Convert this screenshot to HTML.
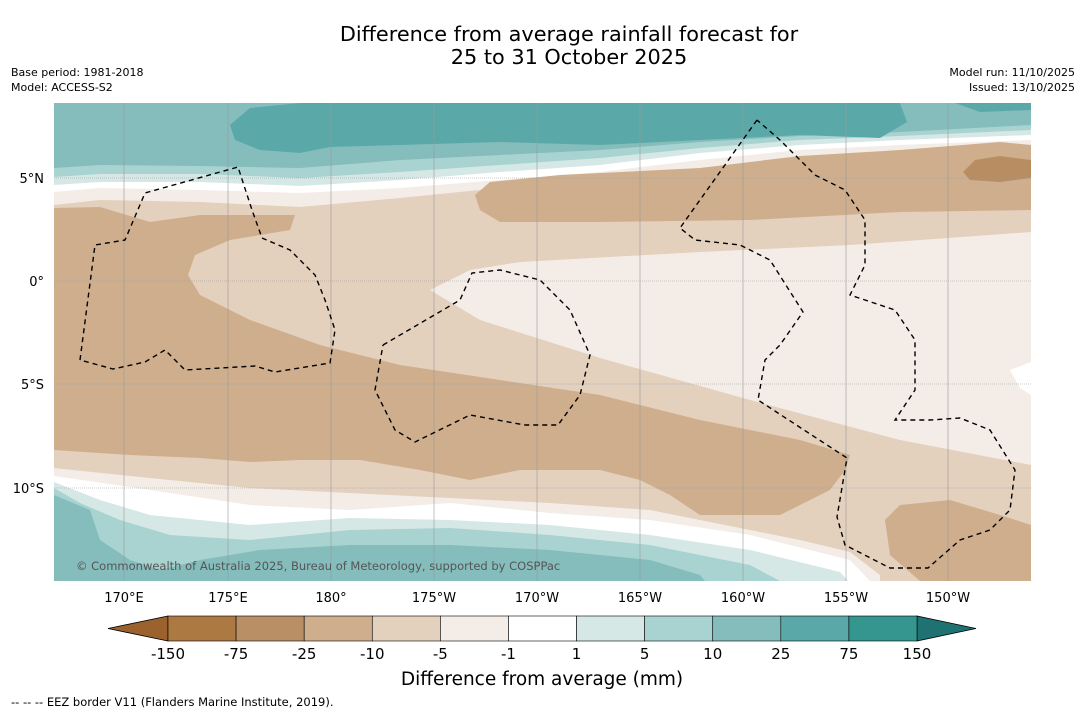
<!DOCTYPE html>
<html><head><meta charset="utf-8"><style>
body{margin:0;background:#fff;width:1085px;height:713px;overflow:hidden;font-family:"DejaVu Sans","Liberation Sans",sans-serif;}
svg{display:block}
</style></head><body>
<svg width="1085" height="713" viewBox="0 0 1085 713">
<text x="569" y="41" text-anchor="middle" font-size="20.8">Difference from average rainfall forecast for</text>
<text x="569" y="64" text-anchor="middle" font-size="20.8">25 to 31 October 2025</text>
<text x="11" y="76" font-size="11">Base period: 1981-2018</text>
<text x="11" y="91" font-size="11">Model: ACCESS-S2</text>
<text x="1075" y="76" font-size="11" text-anchor="end">Model run: 11/10/2025</text>
<text x="1075" y="91" font-size="11" text-anchor="end">Issued: 13/10/2025</text>
<defs><clipPath id="mc"><rect x="54" y="103" width="977" height="478"/></clipPath></defs>
<g clip-path="url(#mc)">
<rect x="54" y="103" width="977" height="478" fill="#e3d0bd"/>
<polygon fill="#f4ece6" points="430,290 470,270 520,262 700,252 850,245 1031,232 1031,465 900,440 750,400 600,358 480,320"/>
<polygon fill="#ffffff" points="1031,362 1010,370 1020,388 1031,395"/>
<polygon fill="#f4ece6" points="54,103 1031,103 1031,148 900,152 800,158 700,168 600,180 500,188 400,198 300,207 200,202 100,200 54,205"/>
<polygon fill="#ffffff" points="54,103 1031,103 1031,140 900,145 800,150 700,160 600,172 500,180 400,188 300,193 200,190 100,188 54,192"/>
<polygon fill="#d5e8e6" points="54,103 1031,103 1031,135 900,140 800,145 700,153 600,165 500,172 400,180 300,186 200,182 100,182 54,185"/>
<polygon fill="#a8d3d1" points="54,103 1031,103 1031,130 900,136 800,140 700,148 600,158 500,165 400,172 300,178 200,174 100,174 54,177"/>
<polygon fill="#84bdbc" points="54,103 1031,103 1031,125 900,132 800,136 700,142 600,150 500,155 400,160 300,168 200,166 100,165 54,168"/>
<polygon fill="#5aa9a8" points="230,125 250,108 300,103 900,103 907,122 880,138 800,135 700,140 600,145 500,142 400,145 330,147 300,153 260,150 235,140"/>
<polygon fill="#5aa9a8" points="955,103 1031,103 1031,110 980,112"/>
<polygon fill="#cfae8d" points="475,195 490,182 560,175 700,168 800,156 900,150 1000,142 1031,145 1031,210 900,212 750,220 600,222 500,222 480,210"/>
<polygon fill="#b98d62" points="963,172 975,160 1000,156 1031,160 1031,178 1000,182 970,180"/>
<polygon fill="#cfae8d" points="54,208 100,207 150,222 200,215 295,215 290,230 230,240 195,255 188,275 200,295 250,320 320,345 400,365 500,380 600,395 700,420 800,440 850,455 845,470 830,490 780,515 700,515 670,495 640,480 600,470 520,470 470,480 420,470 360,460 300,460 250,462 200,458 130,455 54,450"/>
<polygon fill="#f4ece6" points="54,468 150,478 250,488 350,493 450,498 550,503 650,510 700,520 750,530 800,540 850,552 880,575 880,581 54,581"/>
<polygon fill="#ffffff" points="54,476 150,490 250,505 350,510 450,503 550,513 650,520 750,535 850,560 870,581 54,581"/>
<polygon fill="#d5e8e6" points="54,482 100,500 150,515 250,525 350,518 450,520 550,525 650,535 750,550 840,572 848,581 54,581"/>
<polygon fill="#a8d3d1" points="54,488 80,503 120,520 170,535 250,540 350,530 450,528 550,535 650,545 750,565 780,581 54,581"/>
<polygon fill="#84bdbc" points="54,495 90,510 100,540 130,560 160,570 200,560 260,550 350,545 450,545 550,550 650,560 700,575 705,581 54,581"/>
<polygon fill="#cfae8d" points="885,520 900,505 950,500 1000,515 1031,525 1031,581 920,581 890,555"/>
<g stroke="#999" stroke-width="0.6">
<line x1="124" y1="103" x2="124" y2="581"/><line x1="228" y1="103" x2="228" y2="581"/><line x1="331" y1="103" x2="331" y2="581"/><line x1="434" y1="103" x2="434" y2="581"/><line x1="537" y1="103" x2="537" y2="581"/><line x1="640" y1="103" x2="640" y2="581"/><line x1="743" y1="103" x2="743" y2="581"/><line x1="846" y1="103" x2="846" y2="581"/><line x1="948" y1="103" x2="948" y2="581"/>
<g stroke-dasharray="1,1"><line x1="54" y1="178" x2="1031" y2="178"/><line x1="54" y1="281" x2="1031" y2="281"/><line x1="54" y1="384" x2="1031" y2="384"/><line x1="54" y1="488" x2="1031" y2="488"/></g>
</g>
<g fill="none" stroke="#000" stroke-width="1.4" stroke-dasharray="5,4">
<polyline points="80,360 95,245 125,240 145,193 238,167 252,210 262,238 290,250 315,275 325,300 335,330 330,363 275,372 255,366 185,370 165,350 145,362 113,369 80,360"/>
<polyline points="383,345 460,300 472,273 500,270 540,280 570,310 590,355 580,395 558,425 525,425 470,415 415,442 395,430 375,390 383,345"/>
<polyline points="757,120 680,228 695,240 740,245 770,260 803,312 780,345 765,360 758,400 847,458 837,517 845,545 890,568 928,568 960,540 990,530 1010,510 1015,470 990,430 960,418 930,420 895,420 915,390 915,340 895,310 850,295 865,265 865,220 845,190 815,175 780,140 757,120"/>
</g>
<text x="76" y="570" font-size="11.5" fill="#555">© Commonwealth of Australia 2025, Bureau of Meteorology, supported by COSPPac</text>
</g>
<g font-size="13">
<text x="44" y="183" text-anchor="end">5°N</text><text x="44" y="286" text-anchor="end">0°</text><text x="44" y="389" text-anchor="end">5°S</text><text x="44" y="493" text-anchor="end">10°S</text>
</g>
<g font-size="13" text-anchor="middle">
<text x="124" y="602">170°E</text><text x="228" y="602">175°E</text><text x="331" y="602">180°</text><text x="434" y="602">175°W</text><text x="537" y="602">170°W</text><text x="640" y="602">165°W</text><text x="743" y="602">160°W</text><text x="846" y="602">155°W</text><text x="948" y="602">150°W</text>
</g>
<g id="cbar"></g>
<text x="542" y="685" font-size="18.5" text-anchor="middle">Difference from average (mm)</text>
<text x="11" y="706" font-size="11.5">--  --  -- EEZ border V11 (Flanders Marine Institute, 2019).</text>
</svg>
<script>
const cbLabels=["-150","-75","-25","-10","-5","-1","1","5","10","25","75","150"];
const cbColors=["#ad7943","#b98f66","#cfae8d","#e3d0bd","#f4ece6","#ffffff","#d5e8e6","#a8d3d1","#84bdbc","#5aa9a8","#35968f"];
const cbEnds=["#9b622d","#1e7272"];
const ns="http://www.w3.org/2000/svg";
const g=document.getElementById('cbar');
const x0=168,x1=917,y0=616,h=25;
const bw=(x1-x0)/cbColors.length;
const xs=i=>x0+i*bw;
function mk(t,a){const e=document.createElementNS(ns,t);for(const k in a)e.setAttribute(k,a[k]);g.appendChild(e);return e;}
let l=mk('polygon',{points:`108,${y0+h/2} ${x0},${y0} ${x0},${y0+h}`,fill:cbEnds[0],stroke:'#000','stroke-width':0.8});


let r=mk('polygon',{points:`976,${y0+h/2} ${x1},${y0} ${x1},${y0+h}`,fill:cbEnds[1],stroke:'#000','stroke-width':0.8});


cbColors.forEach((c,i)=>{const e=mk('rect',{x:xs(i),y:y0,width:bw,height:h,fill:c,stroke:'#000','stroke-width':0.6});

});
cbLabels.forEach((t,i)=>{const e=mk('text',{x:xs(i),y:659,'font-size':15,'text-anchor':'middle'});e.textContent=t;

});
</script>
</body></html>
